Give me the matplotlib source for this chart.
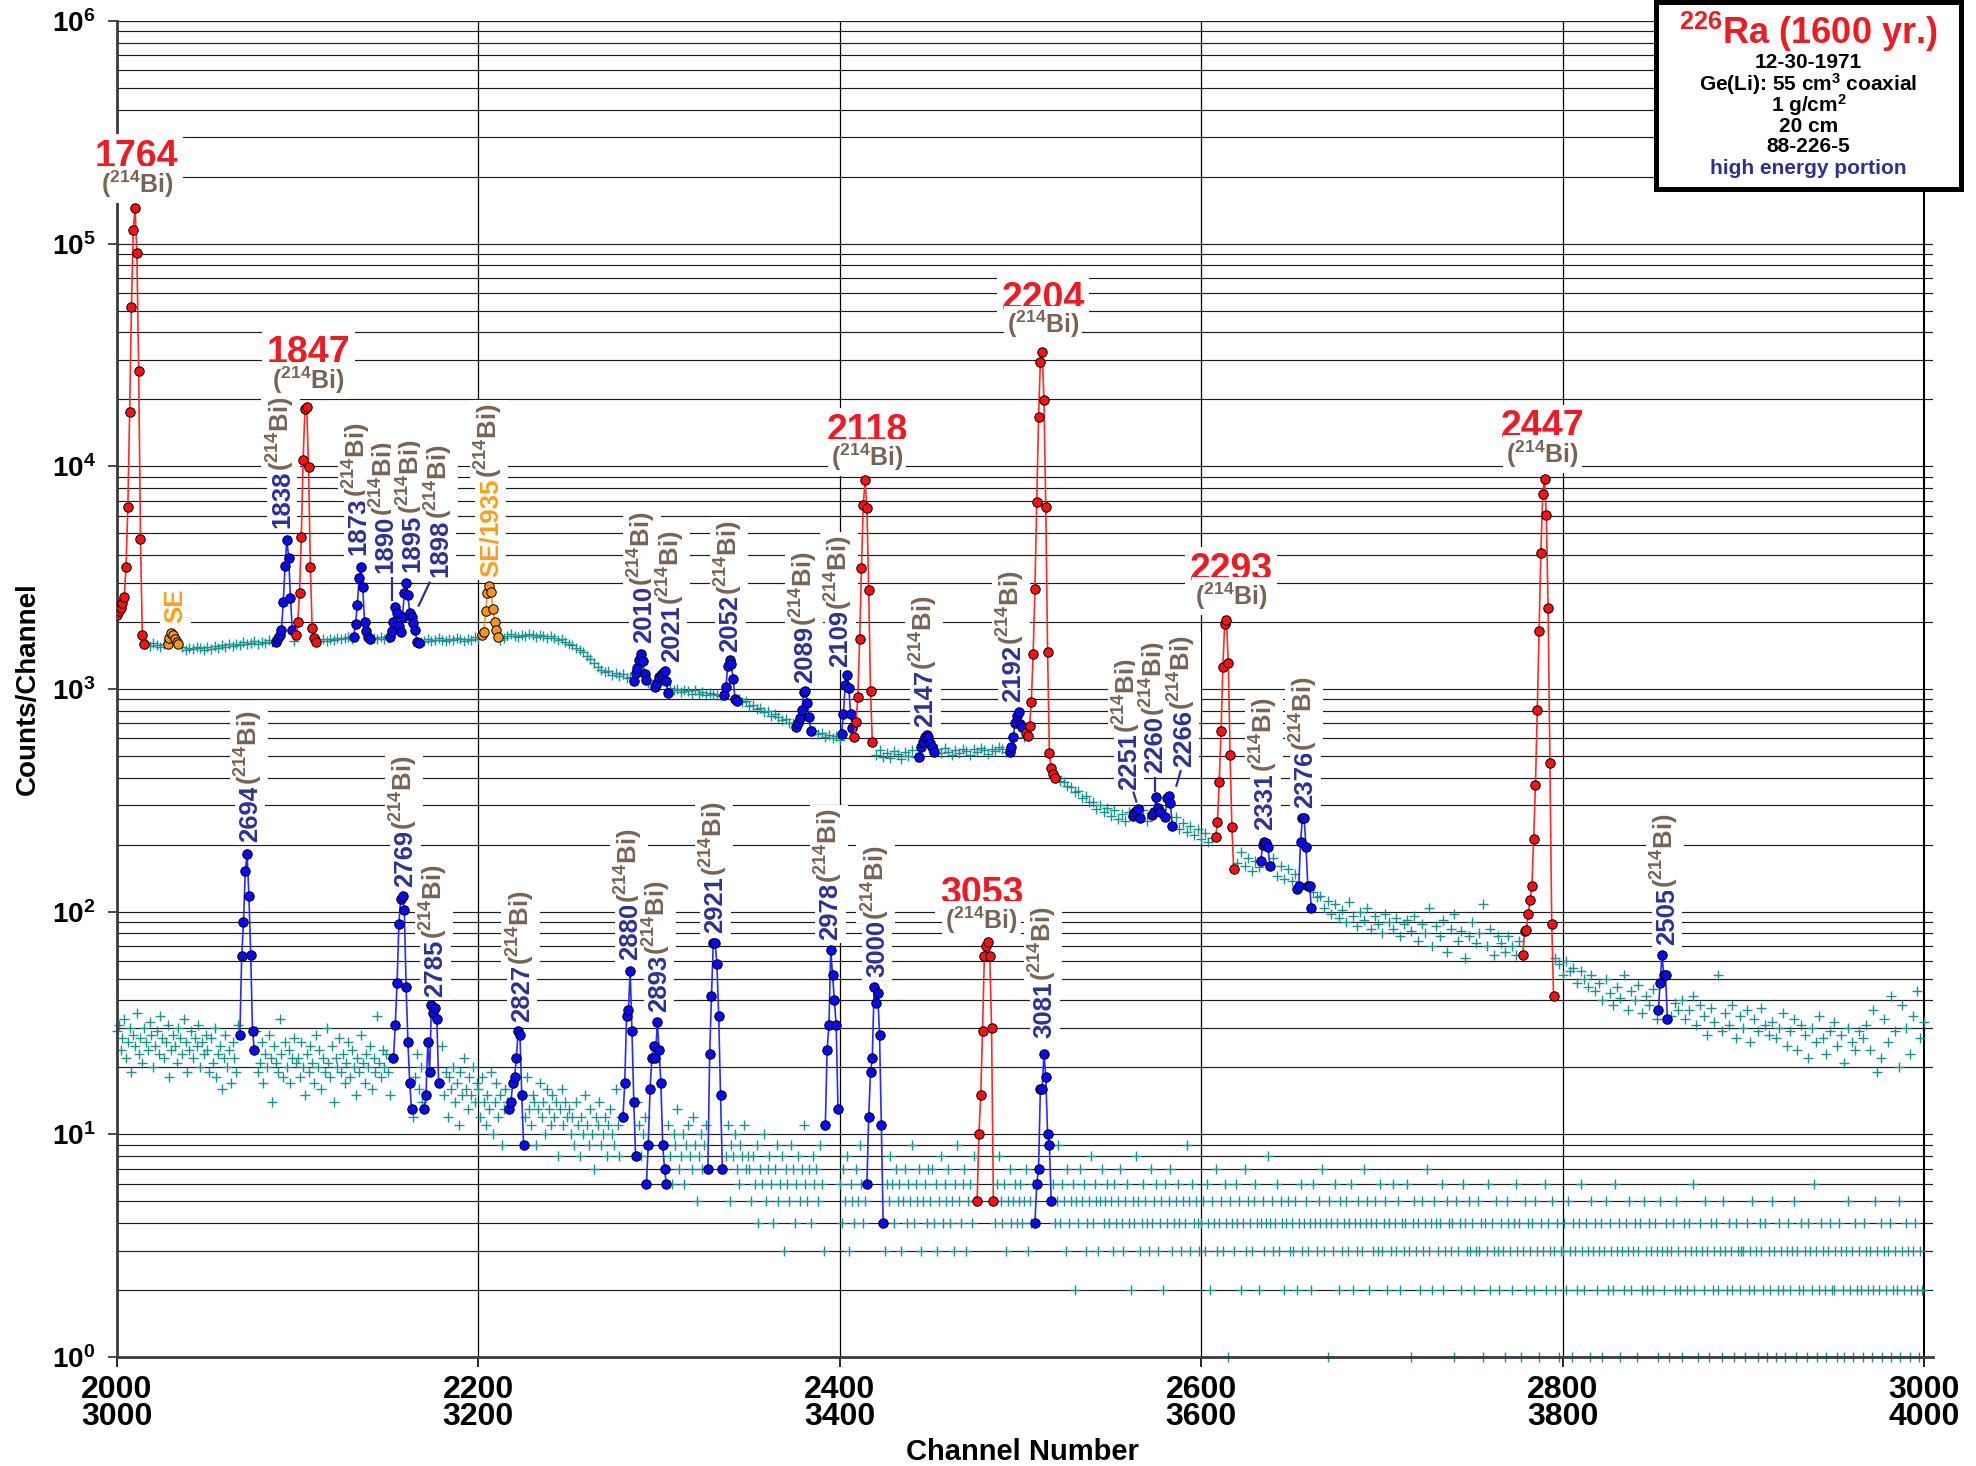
import numpy as np
import matplotlib
matplotlib.use("Agg")
import matplotlib.pyplot as plt
from matplotlib.patches import Rectangle
from matplotlib.ticker import NullLocator

plt.rcParams['font.family'] = ['Liberation Sans', 'DejaVu Sans']
plt.rcParams['mathtext.fontset'] = 'custom'
for k in ('rm', 'it', 'bf', 'sf'):
    plt.rcParams['mathtext.' + k] = 'Liberation Sans:bold'
plt.rcParams['mathtext.default'] = 'rm'

# ---------------- DATA ----------------
# x tick labels (upper spectrum channels / lower spectrum channels)
xt_upper = [2000, 2200, 2400, 2600, 2800, 3000]
xt_lower = [3000, 3200, 3400, 3600, 3800, 4000]
y_decades = [0, 1, 2, 3, 4, 5, 6]

# upper spectrum continuum (channels 2016.. step 2)
hi_2016 = [1585, 1560, 1610, 1575, 1550, 1590, 1545, 1530, 1570, 1520, 1545, 1500, 1530, 1515, 1550, 1525, 1495, 1540, 1520, 1560, 1535, 1570, 1545, 1585, 1560,
           1600, 1575, 1620, 1590, 1615, 1640, 1600, 1630, 1610, 1655, 1625, 1640, 1615, 1660, 1635, 1670, 1645, 1620, 1665, 1650, 1630, 1675, 1655, 1640, 1670]
hi_2116 = [1650, 1685, 1660, 1700, 1670, 1690, 1715, 1680, 1660, 1705, 1690, 1675, 1720, 1695, 1670, 1710, 1685, 1700, 1665, 1690, 1720, 1680, 1705, 1675, 1695,
           1660, 1630, 1650, 1675, 1645, 1665, 1690, 1655, 1640, 1680, 1660, 1700, 1670, 1650, 1685, 1665, 1705, 1675, 1655, 1690, 1670, 1710, 1685, 1660, 1700]
hi_2216 = [1725, 1760, 1735, 1710, 1750, 1730, 1765, 1740, 1720, 1755, 1735, 1700, 1725, 1690, 1660, 1680, 1630, 1600, 1580, 1530, 1500, 1460, 1410, 1370, 1310,
           1260, 1215, 1190, 1200, 1160, 1185, 1140, 1165, 1120, 1135, 1100, 1095, 1080, 1070, 1060, 1050, 1045, 1035, 1030, 1020, 1015, 985, 1000, 965, 990]
hi_2316 = [975, 950, 990, 945, 970, 935, 960, 950, 940, 930, 935, 905, 925, 890, 900, 870, 880, 840, 850, 815, 820, 785, 800, 760, 770,
           750, 725, 730, 700, 705, 675, 680, 655, 665, 640, 650, 625, 635, 610, 620, 600, 612, 590, 605, 590, 585, 580, 575, 570, 565]
hi_2416 = [540, 520, 505, 530, 495, 515, 490, 525, 510, 485, 520, 500, 530, 495, 515, 540, 505, 525, 500, 535, 515, 545, 520, 505, 530,
           515, 540, 525, 505, 535, 520, 545, 530, 510, 540, 525, 550, 535, 520, 560, 545, 575, 590, 610, 630, 650, 660, 680, 700, 720]
hi_2516 = [430, 410, 408, 385, 382, 365, 362, 345, 348, 325, 330, 310, 312, 290, 300, 280, 292, 268, 285, 262, 275, 255, 280, 250, 272,
           262, 285, 255, 278, 240, 270, 258, 250, 275, 245, 265, 235, 250, 228, 242, 220, 235, 212, 225, 205, 215, 200, 210, 195, 205]
hi_2616 = [180, 172, 165, 185, 160, 175, 152, 168, 158, 172, 150, 165, 175, 145, 160, 140, 155, 138, 148, 130, 142, 128, 135, 122, 116,
           118, 104, 112, 98, 108, 94, 102, 90, 110, 96, 86, 100, 92, 104, 84, 96, 88, 80, 98, 90, 84, 94, 78, 88, 92]
hi_2716 = [82, 96, 74, 88, 80, 104, 70, 86, 78, 92, 66, 84, 98, 74, 82, 62, 78, 90, 72, 80, 108, 70, 84, 64, 78,
           72, 66, 78, 70, 64, 74, 68, 60, 72, 64, 58, 70, 62, 66, 56, 62, 58, 52, 60, 54, 56, 48, 54, 50, 46]
hi_2816 = [52, 44, 48, 40, 50, 43, 38, 46, 41, 52, 36, 44, 40, 47, 35, 42, 38, 45, 33, 40, 37, 43, 34, 39, 36,
           40, 33, 36, 42, 31, 38, 34, 28, 37, 32, 52, 29, 35, 31, 38, 27, 34, 30, 36, 26, 33, 29, 37, 31, 28]
hi_2916 = [32, 27, 30, 35, 25, 29, 33, 24, 31, 28, 22, 30, 26, 34, 27, 23, 29, 32, 25, 28, 21, 30, 26, 24, 29,
           27, 31, 24, 36, 19, 22, 33, 26, 42, 29, 20, 38, 30, 23, 34, 44, 27, 32]

# lower spectrum continuum (channels 3000.. step 1)
lo_3000 = [29, 31, 24, 27, 33, 22, 26, 30, 19, 28, 25, 35, 23, 27, 21, 30, 26, 24, 32, 28, 20, 25, 29, 23, 34, 27, 22, 26, 31, 18, 24, 28, 25, 21, 30, 27, 23, 33, 26, 19, 24, 29, 22, 27, 25, 31, 20, 26, 23, 28,
           24, 19, 27, 21, 30, 18, 23, 25, 16, 22, 28, 20, 24, 17, 26, 22, 19, 31, 21, 25, 15, 23, 20, 27, 18, 22, 24, 29, 19, 21, 26, 17, 23, 20, 28, 22, 14, 25, 21, 19, 33, 23, 18, 26, 20, 24, 17, 22, 27, 21]
lo_3100 = [22, 18, 26, 20, 15, 23, 19, 25, 21, 17, 28, 20, 24, 16, 22, 19, 30, 21, 18, 25, 14, 22, 20, 27, 19, 23, 17, 21, 26, 18, 24, 20, 15, 22, 19, 28, 21, 17, 23, 20, 25, 16, 22, 19, 34, 21, 18, 24, 20, 23,
           19, 15, 22, 17, 14, 20, 16, 24, 18, 13, 21, 17, 15, 19, 12, 18, 23, 16, 20, 14, 17, 22, 15, 19, 13, 18, 16, 21, 14, 17, 25, 15, 19, 12, 18, 16, 20, 14, 17, 11, 19, 15, 22, 16, 13, 18, 15, 20, 14, 17]
lo_3200 = [16, 12, 18, 14, 11, 15, 13, 19, 10, 14, 17, 12, 15, 9, 13, 16, 14, 20, 11, 15, 13, 17, 12, 10, 14, 16, 12, 18, 13, 11, 15, 14, 9, 13, 17, 12, 14, 10, 16, 13, 11, 15, 12, 14, 8, 13, 16, 11, 14, 12,
           13, 10, 12, 9, 14, 11, 8, 12, 10, 15, 11, 9, 13, 10, 7, 12, 11, 14, 9, 10, 12, 8, 11, 13, 10, 9, 16, 11, 8, 12, 10, 13, 9, 11, 7, 10, 12, 9, 14, 11, 8, 10, 12, 9, 11, 13, 8, 10, 9, 11]
lo_3300 = [10, 8, 12, 7, 9, 11, 8, 6, 10, 9, 13, 7, 8, 10, 6, 9, 11, 8, 7, 12, 9, 5, 8, 10, 7, 9, 11, 6, 8, 9, 7, 10, 8, 12, 6, 9, 7, 8, 11, 5, 9, 8, 10, 7, 6, 9, 8, 11, 7, 8,
           7, 5, 8, 6, 9, 4, 7, 6, 10, 5, 7, 8, 6, 4, 7, 9, 5, 6, 8, 3, 7, 6, 5, 9, 7, 4, 6, 8, 5, 7, 11, 6, 5, 7, 4, 8, 6, 7, 5, 9, 6, 3, 7, 5, 8, 6, 4, 7, 6, 5]
lo_3400 = [6, 4, 7, 5, 8, 3, 6, 5, 4, 7, 5, 9, 6, 4, 5, 7, 3, 6, 5, 8, 4, 6, 5, 7, 4, 3, 6, 5, 8, 6, 4, 7, 5, 6, 3, 5, 7, 4, 6, 5, 9, 4, 6, 5, 7, 3, 5, 6, 4, 7,
           5, 7, 4, 6, 3, 5, 8, 4, 6, 5, 7, 4, 5, 3, 6, 9, 5, 4, 6, 7, 3, 5, 6, 4, 8, 5, 6, 2, 5, 7, 4, 6, 5, 3, 7, 5, 4, 6, 8, 5, 4, 6, 3, 5, 7, 4, 5, 6, 4, 5]
lo_3500 = [6, 4, 5, 7, 3, 5, 4, 6, 8, 4, 5, 3, 6, 5, 4, 7, 5, 3, 6, 4, 5, 9, 4, 6, 5, 3, 7, 4, 5, 6, 2, 5, 4, 7, 5, 6, 3, 4, 5, 8, 4, 6, 5, 3, 5, 7, 4, 5, 6, 4,
           5, 3, 6, 4, 5, 7, 4, 3, 5, 6, 4, 2, 5, 4, 8, 5, 3, 4, 6, 5, 4, 3, 7, 4, 5, 6, 3, 4, 5, 2, 6, 4, 5, 7, 3, 4, 5, 6, 4, 3, 5, 4, 9, 5, 3, 6, 4, 5, 4, 3]
lo_3600 = [4, 5, 3, 6, 4, 2, 5, 4, 7, 3, 4, 5, 3, 6, 4, 1, 5, 4, 3, 6, 4, 5, 2, 4, 7, 3, 5, 4, 3, 5, 6, 4, 2, 4, 5, 3, 4, 8, 4, 5, 3, 4, 6, 3, 5, 4, 2, 4, 5, 3,
           4, 3, 5, 2, 4, 6, 3, 4, 5, 3, 4, 2, 6, 4, 3, 5, 4, 7, 3, 4, 1, 5, 4, 3, 6, 4, 2, 5, 3, 4, 5, 3, 4, 6, 2, 4, 3, 5, 4, 3, 7, 4, 5, 2, 4, 3, 5, 4, 3, 6]
lo_3700 = [3, 4, 5, 2, 4, 3, 6, 4, 3, 5, 2, 4, 3, 4, 6, 3, 1, 4, 5, 3, 4, 2, 5, 3, 4, 7, 3, 4, 2, 5, 4, 3, 4, 6, 2, 3, 5, 4, 3, 4, 1, 5, 3, 4, 2, 6, 4, 3, 5, 3,
           4, 2, 3, 5, 3, 4, 1, 4, 3, 6, 2, 4, 3, 5, 3, 2, 4, 3, 1, 5, 4, 3, 2, 4, 6, 3, 4, 1, 3, 5, 2, 4, 3, 4, 2, 5, 3, 1, 4, 3, 6, 2, 4, 3, 5, 3, 2, 4, 1, 3]
lo_3800 = [3, 4, 2, 5, 3, 1, 4, 3, 2, 4, 6, 3, 2, 4, 3, 1, 5, 3, 4, 2, 3, 4, 1, 3, 5, 2, 4, 3, 2, 6, 3, 4, 1, 3, 2, 4, 3, 5, 2, 3, 4, 1, 3, 4, 2, 5, 3, 2, 4, 3,
           2, 4, 3, 1, 5, 3, 2, 4, 3, 1, 3, 4, 2, 5, 3, 2, 1, 4, 3, 2, 4, 3, 6, 2, 3, 1, 4, 3, 2, 5, 3, 1, 4, 2, 3, 4, 2, 3, 1, 5, 3, 2, 4, 3, 2, 1, 4, 3, 2, 3]
lo_3900 = [3, 1, 4, 2, 3, 5, 2, 3, 1, 4, 3, 2, 4, 1, 3, 2, 5, 3, 1, 2, 4, 3, 2, 1, 3, 4, 2, 3, 5, 1, 3, 2, 4, 2, 3, 1, 4, 3, 2, 6, 3, 1, 2, 4, 3, 2, 1, 3, 4, 2,
           2, 3, 1, 4, 3, 2, 1, 3, 5, 2, 3, 1, 4, 2, 3, 2, 1, 4, 3, 2, 3, 1, 2, 5, 3, 2, 4, 1, 3, 2, 3, 4, 1, 2, 3, 2, 5, 1, 3, 2, 4, 3, 1, 2, 3, 4, 2, 1, 3, 2]

# ---- upper spectrum peaks (counts at consecutive channels starting at *_ch0)
r1764_ch0, r1764 = 2000, [2150, 2230, 2310, 2430, 2590, 3540, 6570, 17600, 52100, 115000, 145000, 91000, 26800, 4710, 1750, 1590]
r1847_ch0, r1847 = 2099, [1750, 1990, 2690, 4820, 10700, 18000, 18400, 9900, 3520, 1880, 1690, 1630]
r2118_ch0, r2118 = 2408, [611, 713, 923, 1670, 3480, 6700, 8690, 6500, 2790, 982, 580]
r2204_ch0, r2204 = 2503, [632, 615, 682, 877, 1430, 2810, 6920, 16700, 29500, 32500, 19900, 6590, 1470, 518, 440, 415, 397]
r2293_ch0, r2293 = 2608, [217, 252, 383, 648, 1250, 1960, 2040, 1310, 505, 239, 155]
r2447_ch0, r2447 = 2778, [64, 82, 83, 98, 113, 130, 212, 371, 802, 1825, 4100, 7480, 8750, 6070, 2310, 463, 88, 42]

b1838_ch0, b1838 = 2088, [1630, 1690, 1750, 1840, 2450, 3580, 4670, 3890, 2560, 1850]
b1873_ch0, b1873 = 2131, [1720, 1960, 2390, 3140, 3520, 2880, 2000, 1830, 1720, 1670]
b1890_ch0, b1890 = 2151, [1720, 1830, 2000, 2340, 2190, 1910, 1810, 2110, 2690, 2990, 2640, 2190, 2110, 1970, 1840, 1630, 1610]
b2010_ch0, b2010 = 2286, [1086, 1176, 1238, 1349, 1435, 1340, 1164, 1097]
b2021_ch0, b2021 = 2298, [1024, 1067, 1128, 1155, 1176, 1208, 1086, 957]
b2052_ch0, b2052 = 2336, [940, 1024, 1268, 1349, 1291, 1105, 899, 886]
b2089_ch0, b2089 = 2376, [673, 706, 739, 805, 972, 982, 867, 746, 650]
b2109_ch0, b2109 = 2401, [625, 772, 1043, 1155, 1014, 772, 666]
b2147_ch0, b2147 = 2444, [497, 547, 580, 611, 621, 607, 570, 547, 523]
b2192_ch0, b2192 = 2494, [523, 547, 611, 701, 756, 791, 697, 677]
b2251_ch0, b2251 = 2562, [269, 277, 284, 288, 263]
b2260_chs = [2573, 2574, 2575, 2576, 2577, 2580, 2581, 2582, 2583, 2584]
b2260 = [272, 281, 326, 291, 279, 265, 323, 331, 307, 243]
b2331_ch0, b2331 = 2633, [169, 199, 206, 203, 196, 161]
b2376_ch0, b2376 = 2653, [127, 131, 205, 263, 263, 196, 131, 131, 104]
b2505_ch0, b2505 = 2853, [36, 48, 64, 52, 52, 33]

o_se_ch0, o_se = 2028, [1600, 1690, 1780, 1750, 1670, 1630, 1590]
o_se1935_ch0, o_se1935 = 2202, [1750, 1800, 2240, 2690, 2900, 2730, 2280, 1990, 1840, 1720]

# ---- lower spectrum peaks (channels 3000-4000)
b2694_ch0, b2694 = 3068, [28, 63, 90, 153, 182, 118, 64, 29, 24]
b2769_ch0, b2769 = 3153, [22, 31, 48, 88, 114, 118, 102, 46, 26, 17, 13]
b2785_ch0, b2785 = 3170, [13, 15, 26, 19, 38, 35, 37, 33, 17]
b2827_ch0, b2827 = 3217, [13, 14, 17, 18, 22, 29, 28, 15, 9]
b2880_ch0, b2880 = 3280, [12, 17, 34, 36, 54, 29, 14, 8]
b2893_ch0, b2893 = 3293, [6, 9, 16, 22, 25, 22, 32, 24, 17, 9, 7, 6]
b2921_ch0, b2921 = 3327, [7, 23, 42, 72, 72, 58, 34, 15, 7]
b2978_ch0, b2978 = 3392, [11, 24, 31, 67, 52, 40, 31, 13]
b3000_ch0, b3000 = 3415, [6, 12, 19, 22, 46, 39, 43, 28, 11, 4]
b3081_ch0, b3081 = 3508, [4, 6, 7, 16, 16, 23, 18, 10, 9, 5]
r3053_ch0, r3053 = 3476, [5, 10, 15, 29, 63, 70, 73, 63, 30, 5]

LOWER_OFFSET = 1000

# ---------------- STYLE ----------------
TEAL = '#1b9191'
RED_F, RED_L = '#ff1010', '#ff2a2a'
BLUE_F, BLUE_L = '#0808ff', '#2a2aff'
ORG_F, ORG_L = '#f7941d', '#f7941d'
L_RED = '#ed1c24'
L_BLUE = '#2e3192'
L_BROWN = '#786454'
L_ORG = '#f9a11b'
BI = r'($^{214}$Bi)'

W, H, DPI = 1976, 1466, 100
fig = plt.figure(figsize=(W / DPI, H / DPI), dpi=DPI)
ax = fig.add_axes([117 / W, 1 - 1357 / H, (1933 - 117) / W, (1357 - 21) / H])
ax.set_yscale('log')
ax.set_xlim(2000, 3005)
ax.set_ylim(1, 1e6)

# grid
for k in range(6):
    for m in range(1, 10):
        v = m * 10 ** k
        if v == 1:
            continue
        ax.axhline(v, color='#1e1e1e', lw=0.85, zorder=0.5)
ax.axhline(1e6, color='#1e1e1e', lw=0.9, zorder=0.5)
for xv in xt_upper[1:-1]:
    ax.axvline(xv, color='black', lw=0.9, zorder=0.6)
ax.axvline(xt_upper[-1], color='black', lw=1.5, zorder=0.6)

for s in ('top', 'right'):
    ax.spines[s].set_visible(False)
for s in ('left', 'bottom'):
    ax.spines[s].set_linewidth(2.0)
    ax.spines[s].set_color('#3a3a3a')

ax.set_yticks([10.0 ** d for d in y_decades])
ax.set_yticklabels([r'$10^{%d}$' % d for d in y_decades])
ax.yaxis.set_minor_locator(NullLocator())
ax.tick_params(axis='y', which='major', direction='out', length=6.5, width=1.2,
               color='#2a2a2a', pad=9, labelsize=20)
ax.set_xticks(xt_upper)
ax.set_xticklabels([f'{a}\n{b}' for a, b in zip(xt_upper, xt_lower)],
                   fontfamily=['Liberation Sans Narrow', 'Liberation Sans'],
                   fontweight='bold', fontsize=23, linespacing=0.85)
ax.xaxis.set_minor_locator(NullLocator())
ax.tick_params(axis='x', direction='out', length=7, width=1.2, pad=6)

# ---------------- peaks ----------------
def chans(ch0, vals):
    return [ch0 + i for i in range(len(vals))]

upper_peaks = [
    (chans(r1764_ch0, r1764), r1764, 'r'), (chans(r1847_ch0, r1847), r1847, 'r'),
    (chans(r2118_ch0, r2118), r2118, 'r'), (chans(r2204_ch0, r2204), r2204, 'r'),
    (chans(r2293_ch0, r2293), r2293, 'r'), (chans(r2447_ch0, r2447), r2447, 'r'),
    (chans(b1838_ch0, b1838), b1838, 'b'), (chans(b1873_ch0, b1873), b1873, 'b'),
    (chans(b1890_ch0, b1890), b1890, 'b'), (chans(b2010_ch0, b2010), b2010, 'b'),
    (chans(b2021_ch0, b2021), b2021, 'b'), (chans(b2052_ch0, b2052), b2052, 'b'),
    (chans(b2089_ch0, b2089), b2089, 'b'), (chans(b2109_ch0, b2109), b2109, 'b'),
    (chans(b2147_ch0, b2147), b2147, 'b'), (chans(b2192_ch0, b2192), b2192, 'b'),
    (chans(b2251_ch0, b2251), b2251, 'b'), (b2260_chs, b2260, 'b'),
    (chans(b2331_ch0, b2331), b2331, 'b'), (chans(b2376_ch0, b2376), b2376, 'b'),
    (chans(b2505_ch0, b2505), b2505, 'b'),
    (chans(o_se_ch0, o_se), o_se, 'o'), (chans(o_se1935_ch0, o_se1935), o_se1935, 'o'),
]
lower_peaks = [
    (chans(b2694_ch0, b2694), b2694, 'b'), (chans(b2769_ch0, b2769), b2769, 'b'),
    (chans(b2785_ch0, b2785), b2785, 'b'), (chans(b2827_ch0, b2827), b2827, 'b'),
    (chans(b2880_ch0, b2880), b2880, 'b'), (chans(b2893_ch0, b2893), b2893, 'b'),
    (chans(b2921_ch0, b2921), b2921, 'b'), (chans(b2978_ch0, b2978), b2978, 'b'),
    (chans(b3000_ch0, b3000), b3000, 'b'), (chans(b3081_ch0, b3081), b3081, 'b'),
    (chans(r3053_ch0, r3053), r3053, 'r'),
]

def covered(peaks):
    s = set()
    for ch, _, _ in peaks:
        s.update(range(min(ch), max(ch) + 1))
    return s

# continuum
hi_blocks = [(2016, hi_2016), (2116, hi_2116), (2216, hi_2216), (2316, hi_2316), (2416, hi_2416),
             (2516, hi_2516), (2616, hi_2616), (2716, hi_2716), (2816, hi_2816), (2916, hi_2916)]
lo_blocks = [(3000, lo_3000), (3100, lo_3100), (3200, lo_3200), (3300, lo_3300), (3400, lo_3400),
             (3500, lo_3500), (3600, lo_3600), (3700, lo_3700), (3800, lo_3800), (3900, lo_3900)]
cov_hi = covered(upper_peaks)
cov_lo = covered(lower_peaks)
xh, yh = [], []
for c0, vals in hi_blocks:
    for i, v in enumerate(vals):
        c = c0 + 2 * i
        if c <= 3000 and c not in cov_hi:
            xh.append(c); yh.append(v)
xl, yl = [], []
for c0, vals in lo_blocks:
    for i, v in enumerate(vals):
        c = c0 + i
        if c not in cov_lo:
            xl.append(c - LOWER_OFFSET); yl.append(v)
ax.plot(xh, yh, ls='none', marker='+', ms=7, mew=1.0, color=TEAL, zorder=2)
ax.plot(xl, yl, ls='none', marker='+', ms=7, mew=1.0, color=TEAL, zorder=2, clip_on=False)

sty = {'r': (RED_F, RED_L), 'b': (BLUE_F, BLUE_L), 'o': (ORG_F, ORG_L)}
for peaks, off in ((upper_peaks, 0), (lower_peaks, LOWER_OFFSET)):
    for ch, vals, c in peaks:
        fc, lc = sty[c]
        ax.plot([x - off for x in ch], vals, '-', color=lc, lw=1.2, marker='o', ms=6.8,
                mfc=fc, mec='black', mew=0.7, zorder=5 if c == 'r' else 4)

# ---------------- labels ----------------
WB = dict(boxstyle='square,pad=0.12', fc='white', ec='none')
hlabels = [('1764', 2011, 221000, 168000), ('1847', 2106, 29000, 22150),
           ('2118', 2415, 13000, 10000), ('2204', 2512.5, 51000, 39500),
           ('2293', 2616.6, 3100, 2390), ('2447', 2788.9, 13500, 10400),
           ('3053', 2478.5, 108.7, 83.7)]
for txt, x, yn, yb in hlabels:
    ax.text(x, yn, txt, color=L_RED, fontsize=27, fontweight='bold', ha='center',
            va='baseline', zorder=3, bbox=WB)
    ax.text(x, yb, BI, color=L_BROWN, fontsize=18, fontweight='bold', ha='center',
            va='baseline', zorder=3.1, bbox=WB)

vlabels = [
    ([('1838', L_BLUE), (BI, L_BROWN)], 2090.2, 5270),
    ([('1873', L_BLUE), (BI, L_BROWN)], 2132.6, 4000),
    ([('1890', L_BLUE), (BI, L_BROWN)], 2147.4, 3310),
    ([('1895', L_BLUE), (BI, L_BROWN)], 2162.1, 3370),
    ([('1898', L_BLUE), (BI, L_BROWN)], 2177.8, 3190),
    ([('SE/', L_ORG), ('1935', L_ORG), (BI, L_BROWN)], 2205.5, 3190),
    ([('SE', L_ORG)], 2031.2, 1973),
    ([('2010', L_BLUE), (BI, L_BROWN)], 2290.4, 1604),
    ([('2021', L_BLUE), (BI, L_BROWN)], 2306.0, 1327),
    ([('2052', L_BLUE), (BI, L_BROWN)], 2338.3, 1471),
    ([('2089', L_BLUE), (BI, L_BROWN)], 2379.8, 1061),
    ([('2109', L_BLUE), (BI, L_BROWN)], 2399.2, 1259),
    ([('2147', L_BLUE), (BI, L_BROWN)], 2446.2, 675),
    ([('2192', L_BLUE), (BI, L_BROWN)], 2494.6, 877),
    ([('2251', L_BLUE), (BI, L_BROWN)], 2558.8, 352),
    ([('2260', L_BLUE), (BI, L_BROWN)], 2573.5, 418),
    ([('2266', L_BLUE), (BI, L_BROWN)], 2589.2, 448),
    ([('2331', L_BLUE), (BI, L_BROWN)], 2634.4, 233),
    ([('2376', L_BLUE), (BI, L_BROWN)], 2656.5, 292),
    ([('2694', L_BLUE), (BI, L_BROWN)], 2072.6, 206),
    ([('2769', L_BLUE), (BI, L_BROWN)], 2158.4, 129),
    ([('2785', L_BLUE), (BI, L_BROWN)], 2175.0, 41.5),
    ([('2827', L_BLUE), (BI, L_BROWN)], 2223.0, 32),
    ([('2880', L_BLUE), (BI, L_BROWN)], 2283.0, 60.7),
    ([('2893', L_BLUE), (BI, L_BROWN)], 2298.7, 35.5),
    ([('2921', L_BLUE), (BI, L_BROWN)], 2330.0, 80),
    ([('2978', L_BLUE), (BI, L_BROWN)], 2393.6, 74.6),
    ([('3000', L_BLUE), (BI, L_BROWN)], 2419.5, 51),
    ([('3081', L_BLUE), (BI, L_BROWN)], 2512.2, 27),
    ([('2505', L_BLUE), (BI, L_BROWN)], 2856.5, 71),
]
renderer = fig.canvas.get_renderer()
VS = 18.5
for segs, x, y in vlabels:
    off = 0.0
    for txt, col in segs:
        t = ax.annotate(txt, xy=(x, y), xytext=(0.358 * VS, off), textcoords='offset points',
                        rotation=90, rotation_mode='anchor', ha='left', va='baseline',
                        fontsize=VS, fontweight='bold', color=col, zorder=3, bbox=WB,
                        annotation_clip=False)
        bb = t.get_window_extent(renderer)
        off += bb.height * 72.0 / DPI

leaders = [(2152, 3186, 2152, 2485), (2173.2, 3034, 2166.7, 2343),
           (2562.4, 346, 2564.3, 309), (2574.4, 404, 2574.4, 346),
           (2588.8, 433, 2586.1, 364)]
for x0, y0, x1, y1 in leaders:
    ax.plot([x0, x1], [y0, y1], color=L_BLUE, lw=1.6, zorder=3.5, solid_capstyle='butt')

# axis titles
fig.text(28 / W, 1 - 689 / H, 'Counts/Channel', rotation=90, ha='center', va='center',
         fontsize=20, fontweight='bold')
fig.text(1022 / W, 1 - 1452 / H, 'Channel Number', ha='center', va='center',
         fontsize=21, fontweight='bold')

# info box
bx0, bx1, by0, by1 = 1656, 1961, 2.5, 189
fig.add_artist(Rectangle((bx0 / W, 1 - by1 / H), (bx1 - bx0) / W, (by1 - by0) / H,
                         transform=fig.transFigure, fc='white', ec='black', lw=3.6, zorder=10))
cx = (bx0 + bx1) / 2 / W
fig.text(cx, 1 - 32 / H, r'$^{226}$Ra (1600 yr.)', color=L_RED, fontsize=26,
         fontweight='bold', ha='center', va='center', zorder=11)
info_lines = [('12-30-1971', 'black', 63), (r'Ge(Li): 55 cm$^{3}$ coaxial', 'black', 84),
              (r'1 g/cm$^{2}$', 'black', 105), ('20 cm', 'black', 126),
              ('88-226-5', 'black', 147), ('high energy portion', L_BLUE, 169)]
for txt, col, yy in info_lines:
    fig.text(cx, 1 - yy / H, txt, color=col, fontsize=15, fontweight='bold',
             ha='center', va='center', zorder=11)

fig.savefig('out.png', dpi=DPI)
